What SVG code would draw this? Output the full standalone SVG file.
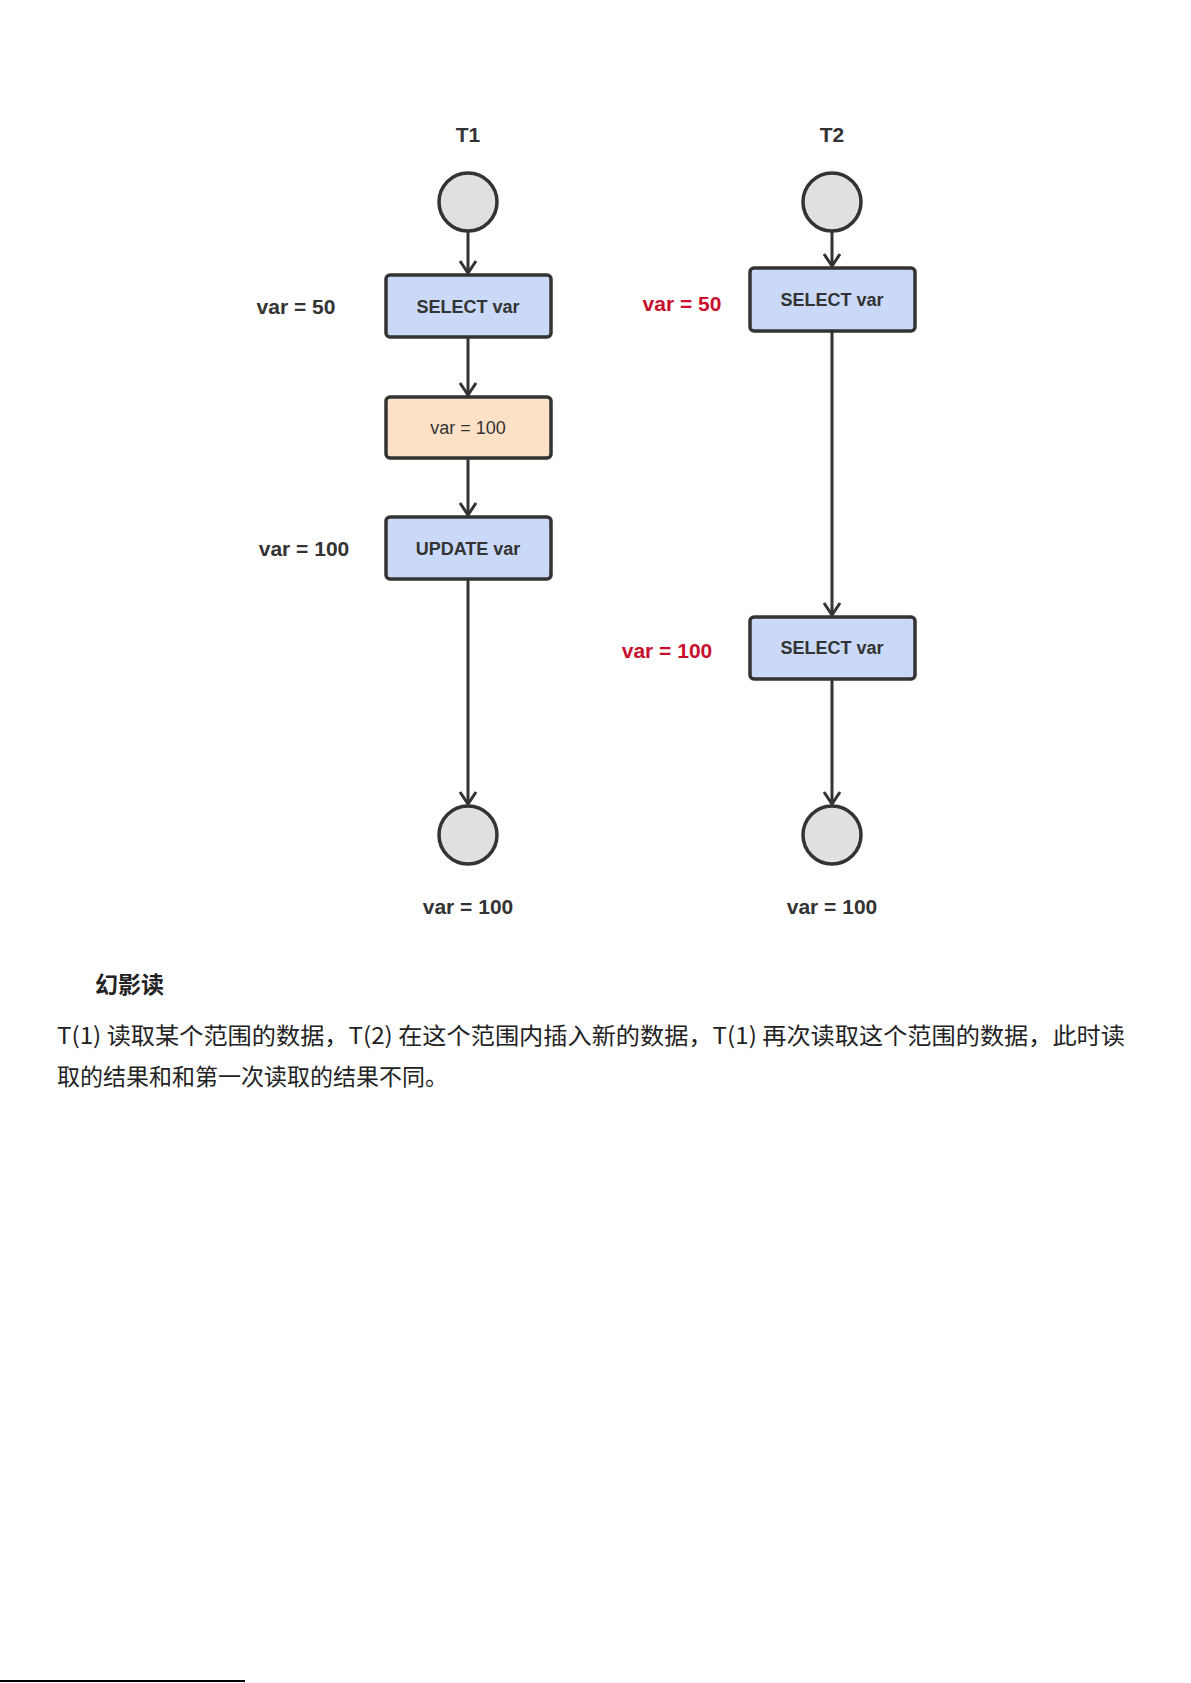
<svg xmlns="http://www.w3.org/2000/svg" width="1191" height="1683" viewBox="0 0 1191 1683">
<style>
.n{stroke:#333;stroke-width:3.5}
.b{fill:#cad9f8}
.o{fill:#fde1c6}
.c{fill:#e0e0e0}
.t{font-family:"Liberation Sans",Arial,sans-serif;font-weight:bold;fill:#333;text-anchor:middle}
.bt{font-size:18px}
.lb{font-size:21px}
.r{fill:#c8102e}
.p{font-family:"Noto Sans CJK SC","Noto Sans",sans-serif;font-size:23px;fill:#222}
.e{stroke:#333;stroke-width:3;fill:none}
</style>
<defs>
<marker id="a" markerWidth="20" markerHeight="20" refX="14" refY="10" orient="auto" markerUnits="userSpaceOnUse">
<path d="M2,2 L14,10 L2,18" fill="none" stroke="#333" stroke-width="3"/>
</marker>
</defs>
<rect width="1191" height="1683" fill="#fff"/>
<g id="edges">
<line class="e" x1="468" y1="232" x2="468" y2="273" marker-end="url(#a)"/>
<line class="e" x1="468" y1="338" x2="468" y2="395" marker-end="url(#a)"/>
<line class="e" x1="468" y1="459" x2="468" y2="515" marker-end="url(#a)"/>
<line class="e" x1="468" y1="580" x2="468" y2="804" marker-end="url(#a)"/>
<line class="e" x1="832" y1="232" x2="832" y2="266" marker-end="url(#a)"/>
<line class="e" x1="832" y1="332" x2="832" y2="615" marker-end="url(#a)"/>
<line class="e" x1="832" y1="680" x2="832" y2="804" marker-end="url(#a)"/>
</g>
<g id="t1"><text class="t lb" x="468" y="142">T1</text></g>
<g id="t2"><text class="t lb" x="832" y="142">T2</text></g>
<g id="s1"><circle class="n c" cx="468" cy="202" r="29"/></g>
<g id="s2"><circle class="n c" cx="832" cy="202" r="29"/></g>
<g id="sel1"><rect class="n b" x="386" y="275" width="165" height="62" rx="4"/><text class="t bt" x="468" y="313">SELECT var</text></g>
<g id="set"><rect class="n o" x="386" y="397" width="165" height="61" rx="4"/><text class="t bt" x="468" y="434" style="font-weight:normal">var = 100</text></g>
<g id="upd"><rect class="n b" x="386" y="517" width="165" height="62" rx="4"/><text class="t bt" x="468" y="555">UPDATE var</text></g>
<g id="e1"><circle class="n c" cx="468" cy="835" r="29"/></g>
<g id="sel2"><rect class="n b" x="750" y="268" width="165" height="63" rx="4"/><text class="t bt" x="832" y="306">SELECT var</text></g>
<g id="sel3"><rect class="n b" x="750" y="617" width="165" height="62" rx="4"/><text class="t bt" x="832" y="654">SELECT var</text></g>
<g id="e2"><circle class="n c" cx="832" cy="835" r="29"/></g>
<g id="labels">
<text class="t lb" x="296" y="314">var = 50</text>
<text class="t lb" x="304" y="556">var = 100</text>
<text class="t lb r" x="682" y="311">var = 50</text>
<text class="t lb r" x="667" y="658">var = 100</text>
<text class="t lb" x="468" y="914">var = 100</text>
<text class="t lb" x="832" y="914">var = 100</text>
</g>
<text class="p" x="95" y="993" style="font-weight:bold">幻影读</text>
<text class="p" x="57" y="1044" textLength="1068" lengthAdjust="spacingAndGlyphs">T(1) 读取某个范围的数据，T(2) 在这个范围内插入新的数据，T(1) 再次读取这个范围的数据，此时读</text>
<text class="p" x="57" y="1085">取的结果和和第一次读取的结果不同。</text>
<line x1="0" y1="1681" x2="245" y2="1681" stroke="#000" stroke-width="2"/>
</svg>
